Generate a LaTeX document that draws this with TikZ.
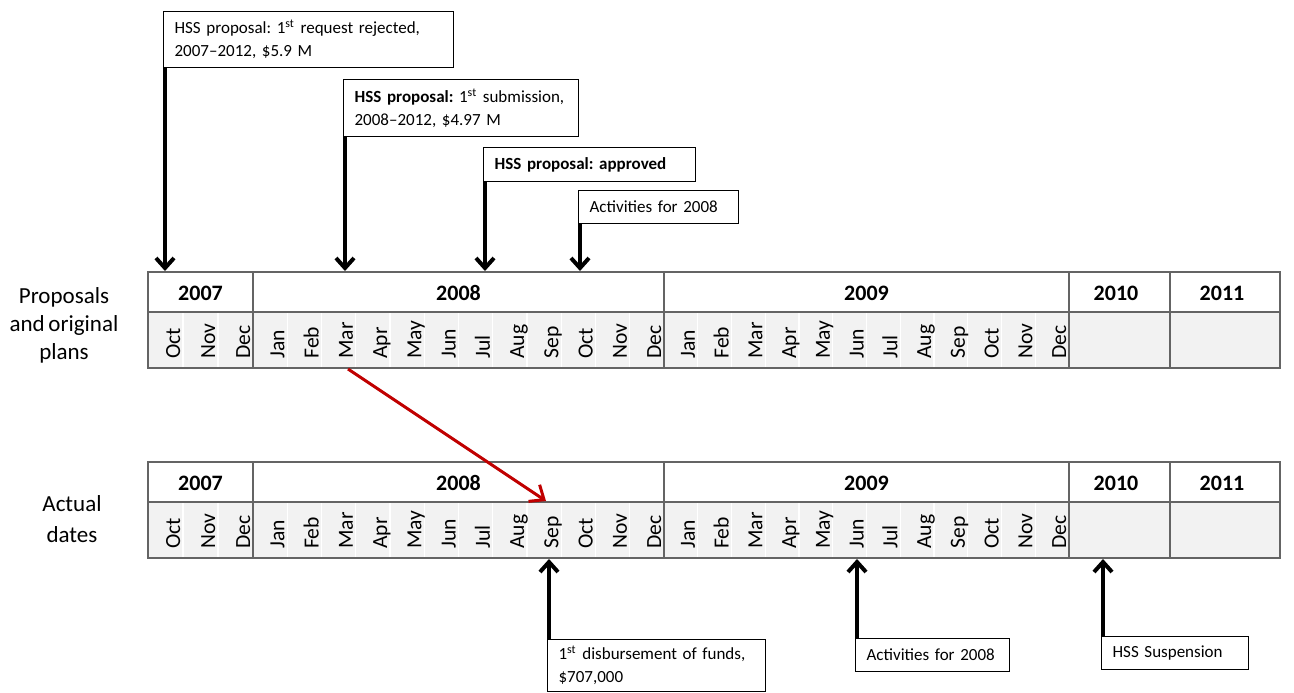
\documentclass[tikz,border=0pt]{standalone}
\usepackage{fontspec}
\setmainfont[WordSpace=0.7]{Carlito}
\usetikzlibrary{arrows.meta}
\frenchspacing

\definecolor{cellgray}{RGB}{242,242,242}
\definecolor{gridgray}{RGB}{100,100,100}
\definecolor{shiftred}{RGB}{192,0,0}

\tikzset{
	gridline/.style={draw=gridgray, line width=0.75pt},
	yearlbl/.style={font=\fontsize{11}{13}\selectfont\bfseries, inner sep=0pt},
	monthlbl/.style={font=\fontsize{10.8}{12}\selectfont, rotate=90, anchor=base west, inner sep=0pt},
	rowlbl/.style={font=\fontsize{11.5}{14}\selectfont, align=center, inner sep=0pt},
	notebox/.style={draw, fill=white, line width=0.6pt, anchor=north west, align=left,
		font=\fontsize{8.5}{11.5}\selectfont, inner xsep=5.5pt, inner ysep=0pt},
	evarrow/.style={line width=2pt, -{Straight Barb[length=5pt,width=9pt]}},
	shiftarrow/.style={draw=shiftred, line width=1.5pt, -{Straight Barb[length=6pt,width=10pt]}},
}

\begin{document}
\begin{tikzpicture}[x=0.5pt, y=-0.5pt]
	\fill[white] (0,0) rectangle (1294,692);
	\useasboundingbox (0,0) rectangle (1294,692);

	\foreach \ty/\tb in {272/p, 462/a} {
		\fill[cellgray] (148,\ty+40) rectangle (1280,\ty+96);
		\foreach \i in {1,2} \draw[white, line width=0.6pt] (148+35*\i,\ty+41) -- (148+35*\i,\ty+95);
		\foreach \i in {1,...,11} {
			\draw[white, line width=0.6pt] (253+34.25*\i,\ty+41) -- (253+34.25*\i,\ty+95);
			\draw[white, line width=0.6pt] (664+33.75*\i,\ty+41) -- (664+33.75*\i,\ty+95);
		}
		\draw[gridline] (148,\ty) rectangle (1280,\ty+96);
		\draw[gridline] (148,\ty+40) -- (1280,\ty+40);
		\foreach \xd in {253, 664, 1069, 1170} \draw[gridline] (\xd,\ty) -- (\xd,\ty+96);

		\node[yearlbl] (\tb-y2007) at (200.5,\ty+21) {2007};
		\node[yearlbl] (\tb-y2008) at (458.5,\ty+21) {2008};
		\node[yearlbl] (\tb-y2009) at (866.5,\ty+21) {2009};
		\node[yearlbl] (\tb-y2010) at (1116,\ty+21) {2010};
		\node[yearlbl] (\tb-y2011) at (1222,\ty+21) {2011};

		\foreach \m [count=\i] in {Oct,Nov,Dec}
			\node[monthlbl] (\tb-m07-\i) at (148+35*\i-3,\ty+87) {\m};
		\foreach \m [count=\i] in {Jan,Feb,Mar,Apr,May,Jun,Jul,Aug,Sep,Oct,Nov,Dec} {
			\node[monthlbl] (\tb-m08-\i) at (253+34.25*\i-3,\ty+87) {\m};
			\node[monthlbl] (\tb-m09-\i) at (664+33.75*\i-3,\ty+87) {\m};
		}
	}

	\node[rowlbl, font=\fontsize{11.5}{14}\selectfont] (plans) at (64,325) {Proposals\\and original\\plans};
	\node[rowlbl, font=\fontsize{11.5}{15.5}\selectfont] (actual) at (72,519) {Actual\\dates};

	\node[notebox, text width=134pt, minimum height=28pt] (rejected) at (163,11)
		{HSS proposal: 1\textsuperscript{st} request rejected,\\2007--2012, \$5.9 M};
	\node[notebox, text width=106.5pt, minimum height=28.5pt] (submitted) at (343,79)
		{\textbf{HSS proposal:} 1\textsuperscript{st} submission,\\2008--2012, \$4.97 M};
	\node[notebox, text width=95pt, minimum height=17pt] (approved) at (483,147)
		{\textbf{HSS proposal: approved}};
	\node[notebox, text width=69pt, minimum height=16.5pt] (plan2008) at (578,190)
		{Activities for 2008};
	\node[notebox, text width=98pt, minimum height=26pt] (disbursed) at (547,639)
		{1\textsuperscript{st} disbursement of funds,\\\$707,000};
	\node[notebox, text width=66pt, minimum height=16.5pt] (actual2008) at (855,638)
		{Activities for 2008};
	\node[notebox, text width=62.5pt, minimum height=16.5pt] (suspended) at (1101,636)
		{HSS Suspension};

	\coordinate (tip1) at (165,271);
	\coordinate (tip2) at (345,271);
	\coordinate (tip3) at (485,271);
	\coordinate (tip4) at (580,271);
	\coordinate (tip5) at (549,559);
	\coordinate (tip6) at (857,559);
	\coordinate (tip7) at (1103,559);

	\draw[evarrow] ([xshift=1pt]rejected.south west) -- (tip1);
	\draw[evarrow] ([xshift=1pt]submitted.south west) -- (tip2);
	\draw[evarrow] ([xshift=1pt]approved.south west) -- (tip3);
	\draw[evarrow] ([xshift=1pt]plan2008.south west) -- (tip4);
	\draw[evarrow] ([xshift=1pt]disbursed.north west) -- (tip5);
	\draw[evarrow] ([xshift=1pt]actual2008.north west) -- (tip6);
	\draw[evarrow] ([xshift=1pt]suspended.north west) -- (tip7);

	\coordinate (planmar) at (348,369);
	\coordinate (actualsep) at (546,501);
	\draw[shiftarrow] (planmar) -- (actualsep);
\end{tikzpicture}
\end{document}
